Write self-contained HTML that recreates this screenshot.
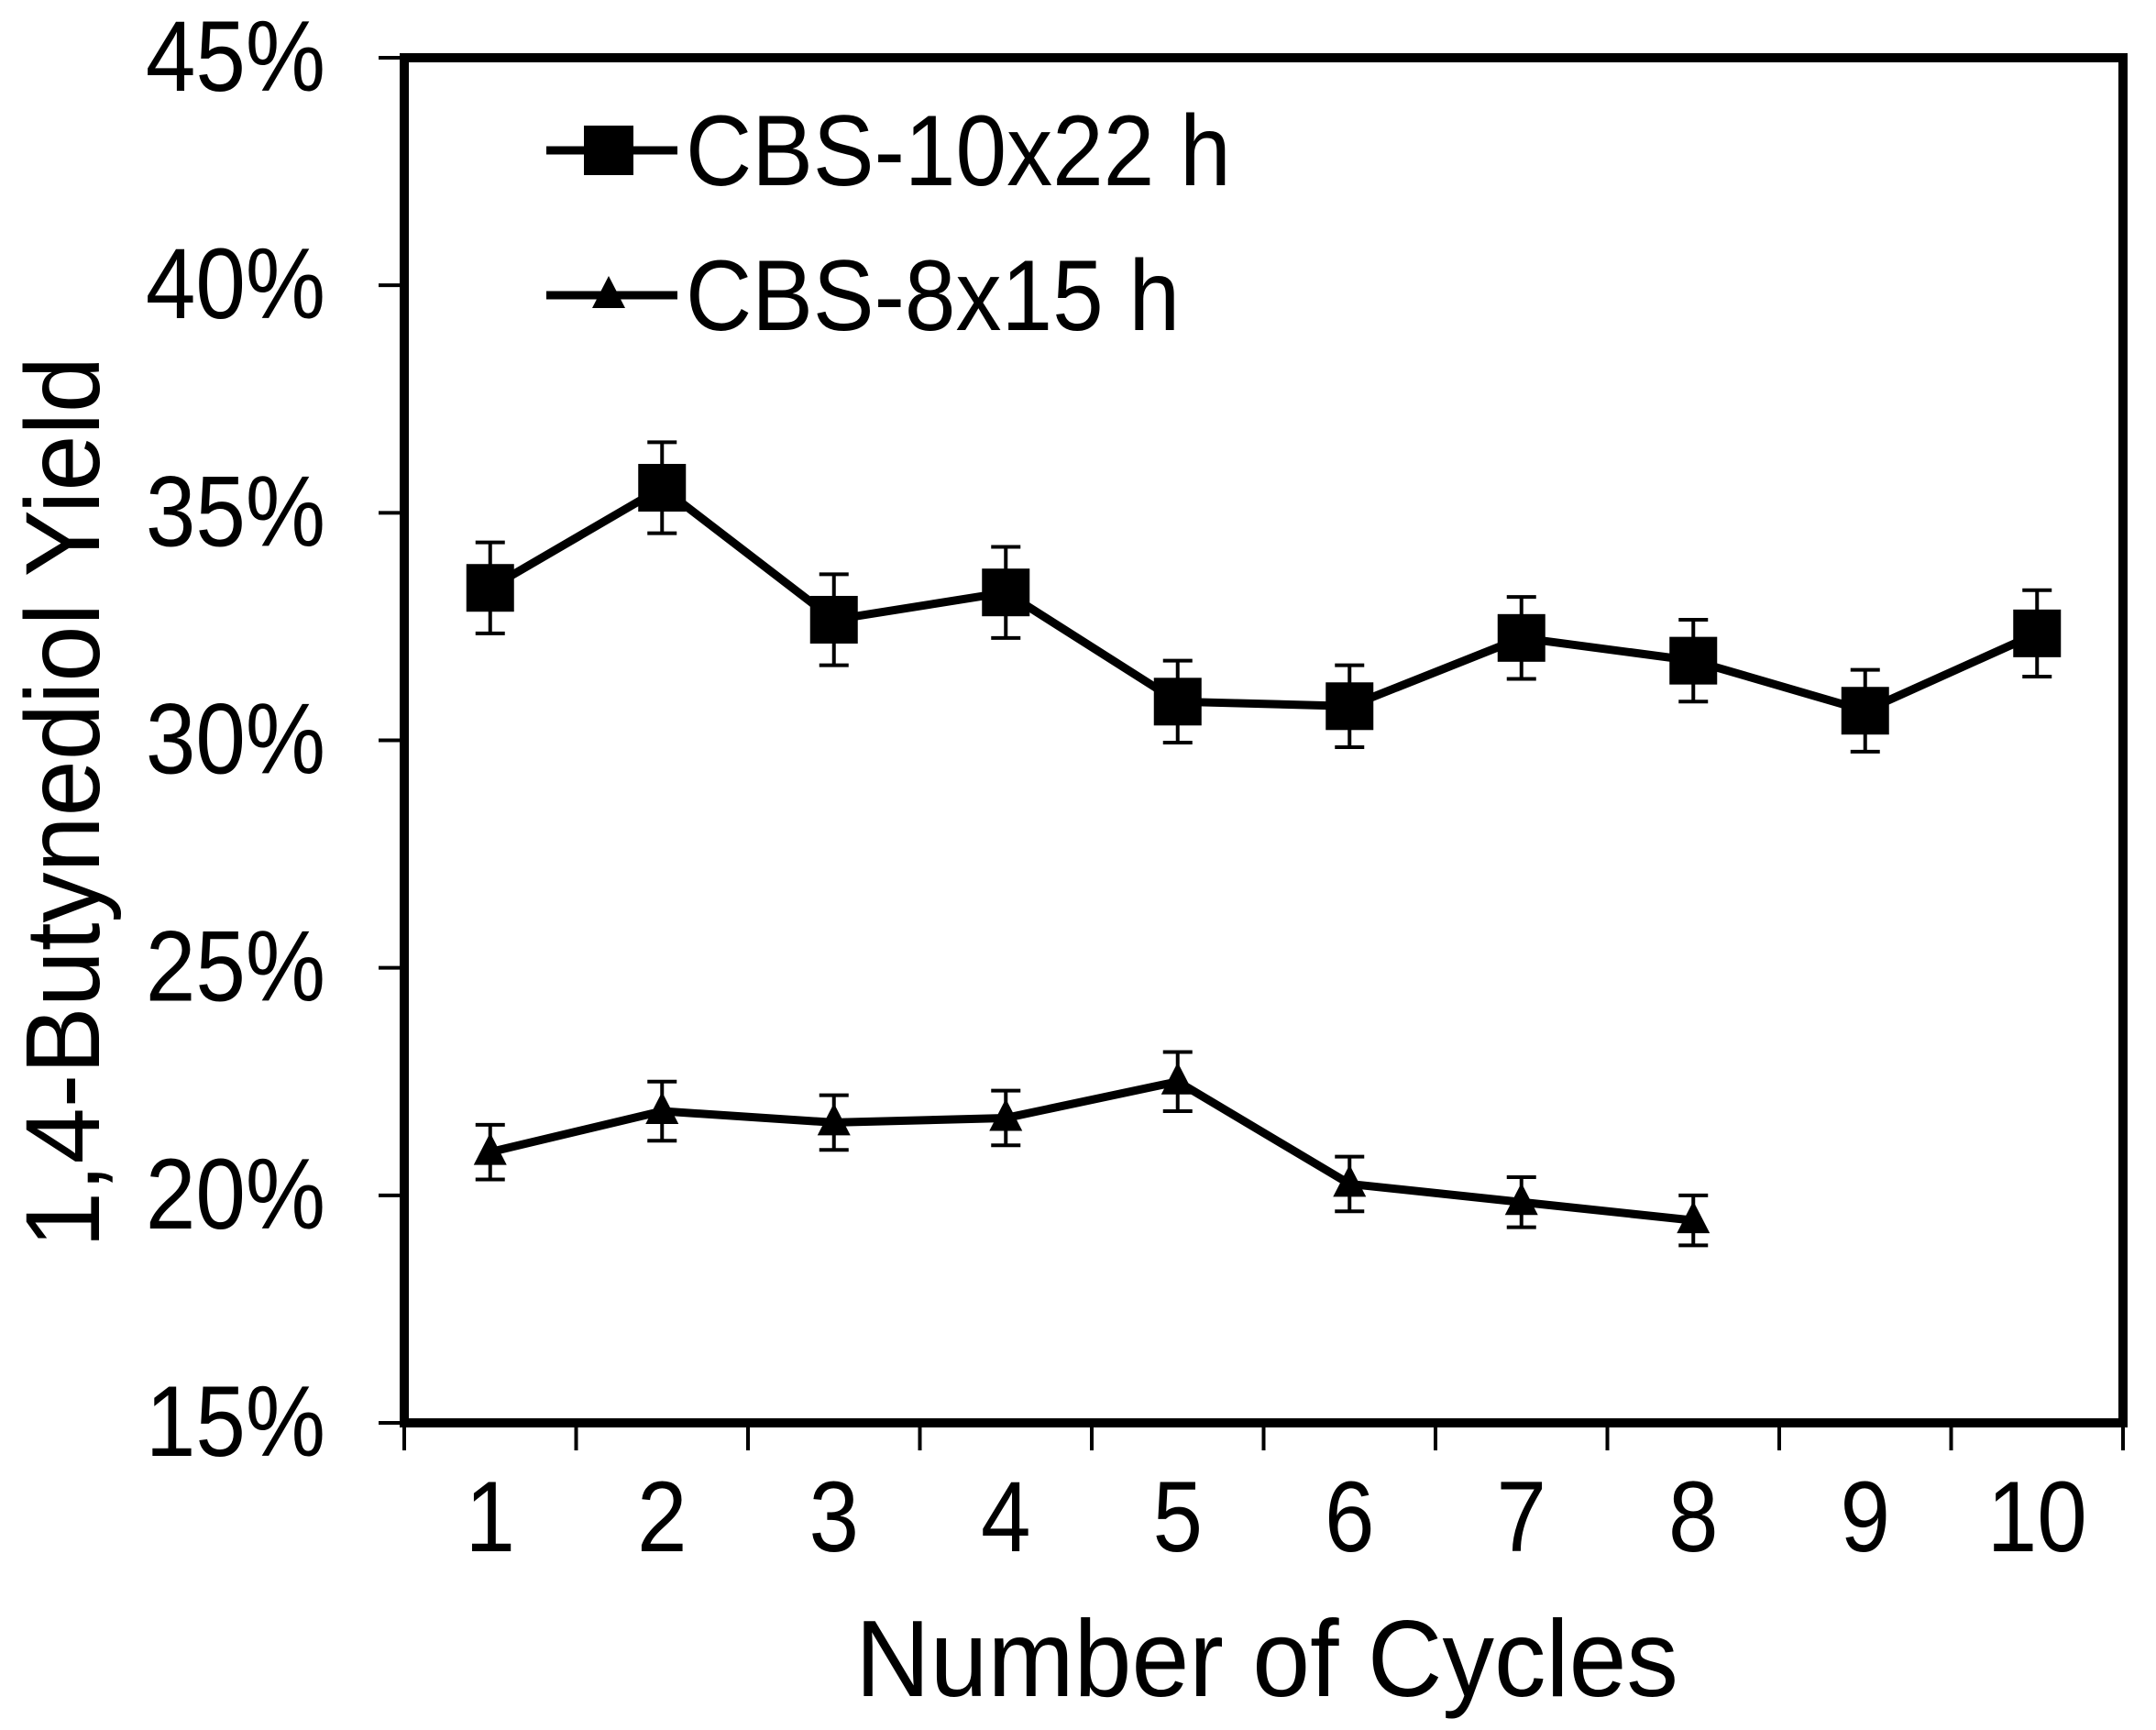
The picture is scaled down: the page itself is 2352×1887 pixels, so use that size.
<!DOCTYPE html>
<html><head><meta charset="utf-8"><style>
html,body{margin:0;padding:0;background:#fff;}
svg{display:block;font-family:"Liberation Sans",Arial,sans-serif;}
</style></head><body>
<svg id="chart" width="2352" height="1887" viewBox="0 0 2352 1887" xmlns="http://www.w3.org/2000/svg">
<g id="plot"></g>
<text transform="translate(108,875) rotate(-90) scale(1,1.05)" text-anchor="middle" font-size="110">1,4-Butynediol Yield</text>
<text transform="translate(1382,1850) scale(1,1.05)" text-anchor="middle" font-size="113">Number of Cycles</text>
</svg>
<script>
const categories = [1,2,3,4,5,6,7,8,9,10];
const yTicks = [15,20,25,30,35,40,45];
const seriesA = [33.35,35.55,32.65,33.25,30.85,30.75,32.25,31.75,30.65,32.35];
const errA = [1,1,1,1,0.9,0.9,0.9,0.9,0.9,0.95];
const seriesB = [20.95,21.85,21.6,21.7,22.5,20.25,19.85,19.45];
const errB = [0.6,0.65,0.6,0.6,0.65,0.6,0.55,0.55];

const L=441, R=2316, T=63, B=1552;
const catW=(R-L)/categories.length;
const xs=i=>L+catW*(i+0.5);
const ys=v=>B-(v-15)/(45-15)*(B-T);
const NS="http://www.w3.org/2000/svg";
const g=document.getElementById('plot');
function mk(tag,attrs,parent){const e=document.createElementNS(NS,tag);for(const k in attrs)e.setAttribute(k,attrs[k]);(parent||g).appendChild(e);return e;}

yTicks.forEach(t=>{
  const tk=mk('line',{x1:L-28,x2:L,y1:ys(t),y2:ys(t),stroke:'#000','stroke-width':4});
  
  
  const lb=mk('text',{transform:`translate(${L-86},${ys(t)+36}) scale(1,1.12)`,'text-anchor':'end','font-size':98});
  lb.textContent=t+'%';
  
  
});
for(let i=0;i<=categories.length;i++){
  const tk=mk('line',{x1:L+catW*i,x2:L+catW*i,y1:B,y2:B+30,stroke:'#000','stroke-width':4});
  
  
}
categories.forEach((c,i)=>{
  const lb=mk('text',{transform:`translate(${xs(i)},1692) scale(1,1.12)`,'text-anchor':'middle','font-size':98});
  lb.textContent=c;
  
  
});
const fr=mk('rect',{x:L,y:T,width:R-L,height:B-T,fill:'none',stroke:'#000','stroke-width':10});



function drawSeries(vals,errs,name,marker){
  const pts=vals.map((v,i)=>xs(i)+','+ys(v)).join(' ');
  const pl=mk('polyline',{points:pts,fill:'none',stroke:'#000','stroke-width':9,'stroke-linejoin':'round'});
  
  
  vals.forEach((v,i)=>{
    const x=xs(i),y1=ys(v+errs[i]),y2=ys(v-errs[i]);
    const eb=mk('path',{d:`M${x},${y1}V${y2}M${x-16},${y1}H${x+16}M${x-16},${y2}H${x+16}`,stroke:'#000','stroke-width':4,fill:'none'});
    
    
    let m;
    if(marker==='square'){m=mk('rect',{x:x-26,y:ys(v)-26,width:52,height:52,fill:'#000'});}
    else{const y=ys(v);m=mk('polygon',{points:`${x},${y-21} ${x-18},${y+14} ${x+18},${y+14}`,fill:'#000'});}
    
    
  });
}
drawSeries(seriesA,errA,'cbs-10x22','square');
drawSeries(seriesB,errB,'cbs-8x15','triangle');

const lg=mk('g',{});


[[164,'CBS-10x22 h','square'],[322,'CBS-8x15 h','triangle']].forEach(([y,txt,mkr])=>{
  const e=mk('g',{},lg);
  
  
  mk('line',{x1:596,x2:739,y1:y,y2:y,stroke:'#000','stroke-width':9},e);
  if(mkr==='square')mk('rect',{x:637,y:y-27,width:54,height:54,fill:'#000'},e);
  else mk('polygon',{points:`664,${y-21} 646,${y+14} 682,${y+14}`,fill:'#000'},e);
  const t=mk('text',{transform:`translate(748,${y+38}) scale(1,1.1)`,'font-size':100},e);
  t.textContent=txt;
});
</script>
</body></html>
